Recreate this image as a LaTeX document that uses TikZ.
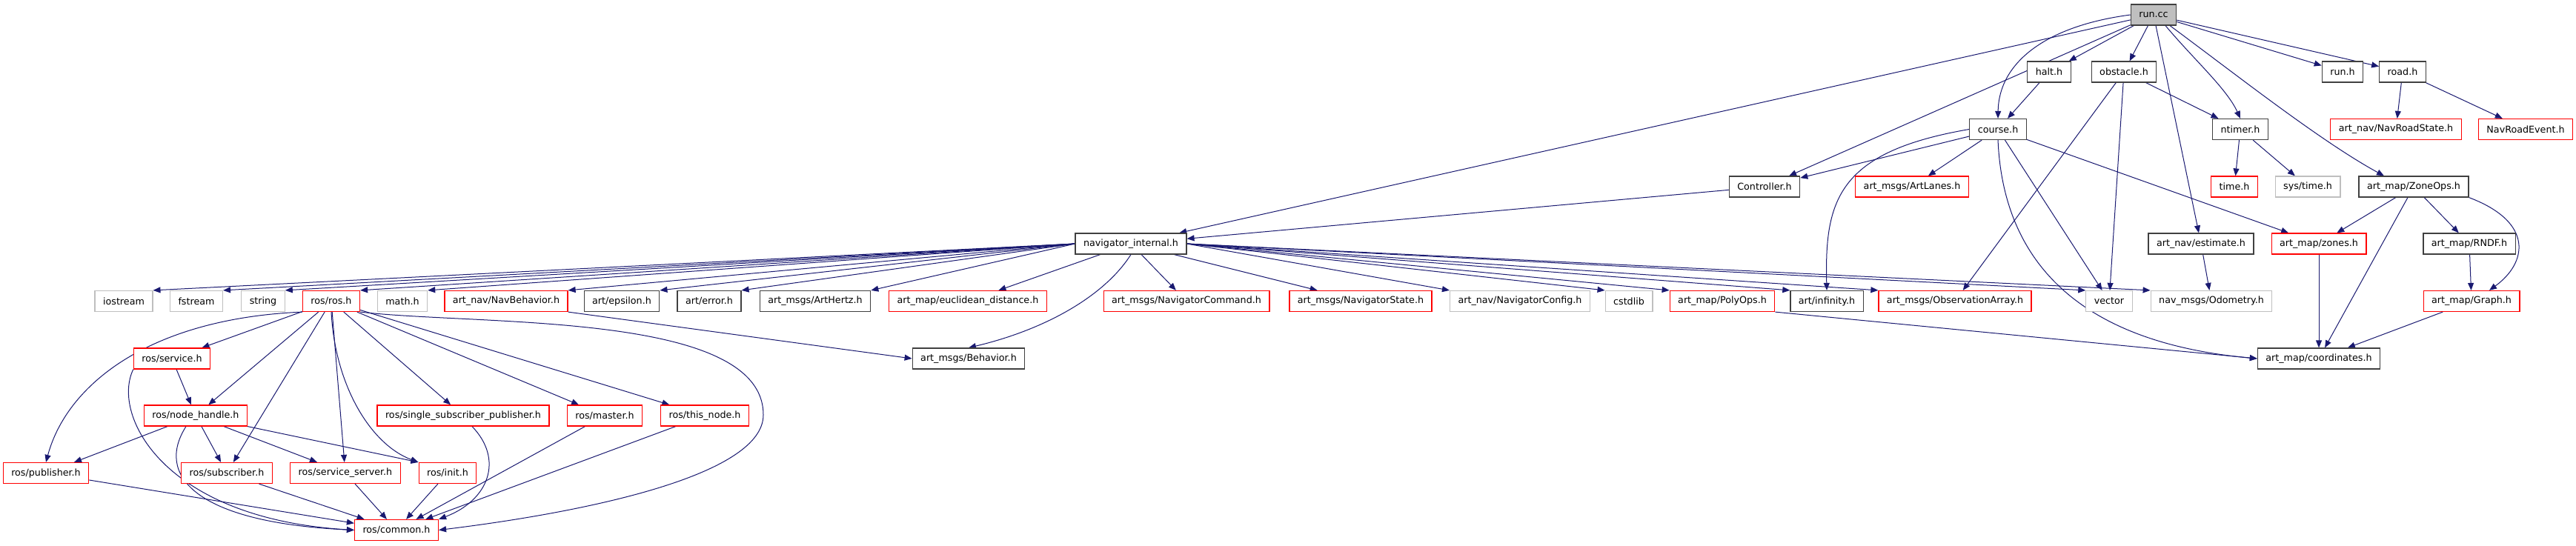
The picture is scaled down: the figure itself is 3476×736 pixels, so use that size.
\documentclass[tikz,border=0pt]{standalone}
\usepackage{fontspec}
\setmainfont{DejaVu Sans}
\usetikzlibrary{arrows.meta, calc, backgrounds}
\definecolor{cEdge}{HTML}{191970}
\definecolor{cBorder}{HTML}{404040}
\definecolor{cMissing}{HTML}{FF0000}
\definecolor{cSystem}{HTML}{BFBFBF}
\definecolor{cRoot}{HTML}{BFBFBF}
\tikzset{
  filebox/.style={
    draw=cBorder, fill=white, line width=1.2pt,
    minimum height=28pt, inner xsep=11pt, inner ysep=2pt,
    font=\fontsize{12.7}{15}\selectfont, text=black
  },
  missingbox/.style={filebox, draw=cMissing},
  sysbox/.style={filebox, draw=cSystem},
  rootbox/.style={filebox, fill=cRoot},
  inclarrow/.style={
    -{Triangle[length=10pt, width=8pt]}, line width=1pt, color=cEdge
  },
}

\begin{document}
\begin{tikzpicture}[x=1pt, y=-1pt]
\useasboundingbox (0,0) rectangle (3476,736);

% ---- rank 1 ----
\node[rootbox] (runcc) at (2906,20) {run.cc};

% ---- rank 2 ----
\node[filebox] (halt) at (2765,97) {halt.h};
\node[filebox] (obstacle) at (2866,97) {obstacle.h};
\node[filebox] (runh) at (3161,97) {run.h};
\node[filebox] (road) at (3242,97) {road.h};

% ---- rank 3 ----
\node[filebox] (course) at (2696,174.5) {course.h};
\node[filebox] (ntimer) at (3023,174.5) {ntimer.h};
\node[missingbox] (navroadstate) at (3233,174.5) {art\_nav/NavRoadState.h};
\node[missingbox] (navroadevent) at (3408,174.5) {NavRoadEvent.h};

% ---- rank 4 ----
\node[filebox] (controller) at (2381,252) {Controller.h};
\node[missingbox] (artlanes) at (2580,252) {art\_msgs/ArtLanes.h};
\node[missingbox] (timeh) at (3015,252) {time.h};
\node[sysbox] (systime) at (3114,252) {sys/time.h};
\node[filebox] (zoneops) at (3257,252) {art\_map/ZoneOps.h};

% ---- rank 5 ----
\node[filebox] (navint) at (1526,329) {navigator\_internal.h};
\node[filebox] (estimate) at (2970,329) {art\_nav/estimate.h};
\node[missingbox] (zones) at (3129,329) {art\_map/zones.h};
\node[filebox] (rndf) at (3332,329) {art\_map/RNDF.h};

% ---- rank 6 ----
\node[sysbox] (iostream) at (167,406.5) {iostream};
\node[sysbox] (fstream) at (265,406.5) {fstream};
\node[sysbox] (string) at (355,406.5) {string};
\node[missingbox] (rosros) at (447,406.5) {ros/ros.h};
\node[sysbox] (math) at (543,406.5) {math.h};
\node[missingbox] (navbehavior) at (683,406.5) {art\_nav/NavBehavior.h};
\node[filebox] (epsilon) at (839,406.5) {art/epsilon.h};
\node[filebox] (error) at (957,406.5) {art/error.h};
\node[filebox] (arthertz) at (1100,406.5) {art\_msgs/ArtHertz.h};
\node[missingbox] (eucldist) at (1306,406.5) {art\_map/euclidean\_distance.h};
\node[missingbox] (navcmd) at (1601,406.5) {art\_msgs/NavigatorCommand.h};
\node[missingbox] (navstate) at (1836,406.5) {art\_msgs/NavigatorState.h};
\node[sysbox] (navconfig) at (2051,406.5) {art\_nav/NavigatorConfig.h};
\node[sysbox] (cstdlib) at (2198,406.5) {cstdlib};
\node[missingbox] (polyops) at (2324,406.5) {art\_map/PolyOps.h};
\node[filebox] (infinity) at (2465,406.5) {art/infinity.h};
\node[missingbox] (obsarray) at (2638,406.5) {art\_msgs/ObservationArray.h};
\node[sysbox] (vector) at (2846,406.5) {vector};
\node[sysbox] (odometry) at (2984,406.5) {nav\_msgs/Odometry.h};
\node[missingbox] (graph) at (3335,406.5) {art\_map/Graph.h};

% ---- rank 7 ----
\node[missingbox] (rosservice) at (232,484) {ros/service.h};
\node[filebox] (behavior) at (1307,484) {art\_msgs/Behavior.h};
\node[filebox] (coords) at (3129,484) {art\_map/coordinates.h};

% ---- rank 8 ----
\node[missingbox] (nodehandle) at (264,561) {ros/node\_handle.h};
\node[missingbox] (singlesub) at (625,561) {ros/single\_subscriber\_publisher.h};
\node[missingbox] (master) at (816,561) {ros/master.h};
\node[missingbox] (thisnode) at (951,561) {ros/this\_node.h};

% ---- rank 9 ----
\node[missingbox] (publisher) at (62,638.5) {ros/publisher.h};
\node[missingbox] (subscriber) at (306,638.5) {ros/subscriber.h};
\node[missingbox] (servserver) at (466,638.5) {ros/service\_server.h};
\node[missingbox] (rosinit) at (604,638.5) {ros/init.h};

% ---- rank 10 ----
\node[missingbox] (common) at (535,715.5) {ros/common.h};

\begin{pgfonlayer}{background}
  % ---- run.cc ----
  \draw[inclarrow] (runcc) -- (navint);
  \draw[inclarrow] (runcc) -- (controller);
  \draw[inclarrow] (runcc.west) .. controls (2760,35) and (2697,85) .. (course.north);
  \draw[inclarrow] (runcc) -- (halt);
  \draw[inclarrow] (runcc) -- (obstacle);
  \draw[inclarrow] (runcc) -- (estimate);
  \draw[inclarrow] ($(runcc.south)+(16,0)$) .. controls (2960,80) and (3005,120) .. (ntimer.north);
  \draw[inclarrow] ($(runcc.south)+(22,0)$) .. controls (3010,95) and (3130,190) .. ($(zoneops.north)+(-40,0)$);
  \draw[inclarrow] (runcc) -- (runh);
  \draw[inclarrow] (runcc) -- (road);

  % ---- rank 2 ----
  \draw[inclarrow] (halt) -- (course);
  \draw[inclarrow] (obstacle) -- (ntimer);
  \draw[inclarrow] (obstacle) -- (vector);
  \draw[inclarrow] (obstacle) -- (obsarray);
  \draw[inclarrow] (road) -- (navroadstate);
  \draw[inclarrow] (road) -- (navroadevent);

  % ---- course.h ----
  \draw[inclarrow] (course) -- (controller);
  \draw[inclarrow] (course.west) .. controls (2480,205) and (2462,270) .. (infinity.north);
  \draw[inclarrow] (course) -- (artlanes);
  \draw[inclarrow] (course) -- (vector);
  \draw[inclarrow] (course.south) .. controls (2702,330) and (2780,460) .. (coords.west);
  \draw[inclarrow] (course) -- (zones);

  % ---- rank 3/4 ----
  \draw[inclarrow] (ntimer) -- (timeh);
  \draw[inclarrow] (ntimer) -- (systime);
  \draw[inclarrow] (controller) -- (navint);
  \draw[inclarrow] (zoneops) -- (zones);
  \draw[inclarrow] (zoneops) -- (rndf);
  \draw[inclarrow] (zoneops) -- (coords);
  \draw[inclarrow] (zoneops.south east) .. controls (3420,300) and (3410,355) .. ($(graph.north)+(24,0)$);

  % ---- map files ----
  \draw[inclarrow] (estimate) -- (odometry);
  \draw[inclarrow] (zones) -- (coords);
  \draw[inclarrow] (rndf) -- (graph);
  \draw[inclarrow] (graph) -- (coords);
  \draw[inclarrow] (polyops.south east) -- (coords.west);

  % ---- navigator_internal.h ----
  \draw[inclarrow] (navint.west) -- (iostream.north east);
  \draw[inclarrow] (navint.west) -- (fstream.north east);
  \draw[inclarrow] (navint.west) -- (string.north east);
  \draw[inclarrow] (navint.west) -- (rosros.north east);
  \draw[inclarrow] (navint.west) -- (math.north east);
  \draw[inclarrow] (navint.west) -- (navbehavior.north east);
  \draw[inclarrow] (navint.west) -- (epsilon.north east);
  \draw[inclarrow] (navint.west) -- (error.north east);
  \draw[inclarrow] (navint.west) -- (arthertz.north east);
  \draw[inclarrow] (navint) -- (eucldist);
  \draw[inclarrow] (navint.south) .. controls (1490,400) and (1410,445) .. (behavior.north);
  \draw[inclarrow] (navint) -- (navcmd);
  \draw[inclarrow] (navint) -- (navstate);
  \draw[inclarrow] (navint.east) -- (navconfig.north west);
  \draw[inclarrow] (navint.east) -- (cstdlib.north west);
  \draw[inclarrow] (navint.east) -- (polyops.north west);
  \draw[inclarrow] (navint.east) -- (infinity.north west);
  \draw[inclarrow] (navint.east) -- (obsarray.north west);
  \draw[inclarrow] (navint.east) -- (vector.north west);
  \draw[inclarrow] (navint.east) -- (odometry.north west);
  \draw[inclarrow] (navbehavior.south east) -- (behavior.west);

  % ---- ros/ros.h ----
  \draw[inclarrow] (rosros.south west) .. controls (200,430) and (90,520) .. (publisher.north);
  \draw[inclarrow] (rosros) -- (rosservice);
  \draw[inclarrow] (rosros) -- (nodehandle);
  \draw[inclarrow] (rosros) -- (subscriber);
  \draw[inclarrow] (rosros) -- (servserver);
  \draw[inclarrow] (rosros.south) .. controls (452,520) and (500,600) .. (rosinit.north west);
  \draw[inclarrow] (rosros) -- (singlesub);
  \draw[inclarrow] (rosros) -- (master);
  \draw[inclarrow] (rosros) -- (thisnode);
  \draw[inclarrow] (rosros.south east) .. controls (650,440) and (1030,420) .. (1030,560)
    .. controls (1030,640) and (800,690) .. (common.east);

  % ---- ros internals ----
  \draw[inclarrow] (rosservice) -- (nodehandle);
  \draw[inclarrow] (rosservice.south west) .. controls (150,560) and (220,700) .. (common.west);
  \draw[inclarrow] (nodehandle) -- (publisher);
  \draw[inclarrow] (nodehandle) -- (subscriber);
  \draw[inclarrow] (nodehandle) -- (servserver);
  \draw[inclarrow] (nodehandle.south east) -- (rosinit.north west);
  \draw[inclarrow] ($(nodehandle.south)+(-13,0)$) .. controls (210,640) and (260,705) .. (common.west);
  \draw[inclarrow] (publisher) -- (common);
  \draw[inclarrow] (subscriber) -- (common);
  \draw[inclarrow] (servserver) -- (common);
  \draw[inclarrow] (rosinit) -- (common);
  \draw[inclarrow] ($(singlesub.south)+(12,0)$) .. controls (680,620) and (660,675) .. (common.north east);
  \draw[inclarrow] (master) -- (common);
  \draw[inclarrow] (thisnode) -- (common);
\end{pgfonlayer}

\end{tikzpicture}
\end{document}
